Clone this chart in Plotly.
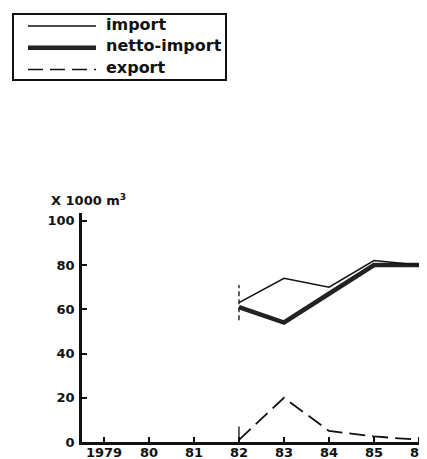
import plotly.graph_objects as go

tick_years = [1979, 1980, 1981, 1982, 1983, 1984, 1985, 1986]
tick_labels = ["1979", "80", "81", "82", "83", "84", "85", "86"]
y_ticks = [0, 20, 40, 60, 80, 100]

years = [1982, 1983, 1984, 1985, 1986]
import_vals = [63, 74, 70, 82, 80]
netto_vals = [61, 54, 67, 80, 80]
export_vals = [1, 20, 5, 2.5, 1]

series_names = ["import", "netto-import", "export"]

FONT = "DejaVu Sans, sans-serif"
INK = "#111"

# plot area in page pixels (the page has an 8px body margin)
PX0, PX1, PY0, PY1 = 82, 427, 213, 442


def px(x):
    return (x - PX0) / (PX1 - PX0)


def py(y):
    return (PY1 - y) / (PY1 - PY0)


styles = [dict(color=INK, width=1.5),
          dict(color="#222", width=4.5),
          dict(color=INK, width=1.8, dash="16px,7px")]

fig = go.Figure()
fig.add_trace(go.Scatter(x=years, y=netto_vals, mode="lines", name=series_names[1],
                         line=styles[1], showlegend=False))
fig.add_trace(go.Scatter(x=years, y=import_vals, mode="lines", name=series_names[0],
                         line=styles[0], showlegend=False))
fig.add_trace(go.Scatter(x=years, y=export_vals, mode="lines", name=series_names[2],
                         line=styles[2], showlegend=False))
# start markers at the first year of data
fig.add_trace(go.Scatter(x=[years[0], years[0]], y=[import_vals[0] - 8, import_vals[0] + 8],
                         mode="lines", showlegend=False,
                         line=dict(color=INK, width=1.3, dash="5px,3px")))
fig.add_trace(go.Scatter(x=[years[0], years[0]], y=[0, export_vals[0] + 6],
                         mode="lines", showlegend=False,
                         line=dict(color=INK, width=1.3)))

# hand-drawn legend box (long line samples like the original)
shapes = [dict(type="rect", xref="paper", yref="paper",
               x0=px(13), x1=px(226), y0=py(80), y1=py(14),
               line=dict(color=INK, width=2), fillcolor="white")]
annotations = []
legend_styles = [dict(color=INK, width=1.5),
                 dict(color="#222", width=4.5),
                 dict(color=INK, width=1.5, dash="15px,7px")]
for i, (name, st) in enumerate(zip(series_names, legend_styles)):
    yy = 26 + 21.8 * i
    shapes.append(dict(type="line", xref="paper", yref="paper",
                       x0=px(28), x1=px(96), y0=py(yy), y1=py(yy), line=st))
    annotations.append(dict(text=name, xref="paper", yref="paper",
                            x=px(104), y=py(yy - 2), xanchor="left", yanchor="middle",
                            showarrow=False,
                            font=dict(family=FONT, size=16, color=INK, weight="bold")))

annotations.append(dict(text="X 1000 m<sup>3</sup>", xref="paper", yref="paper",
                        x=px(49), y=py(210), xanchor="left", yanchor="bottom",
                        showarrow=False,
                        font=dict(family=FONT, size=13, color=INK, weight="bold")))

fig.update_layout(
    width=419, height=451,
    margin=dict(l=PX0 - 8, r=0, t=PY0 - 8, b=451 - (PY1 - 8)),
    paper_bgcolor="white", plot_bgcolor="white",
    font=dict(family=FONT, size=13, color=INK),
    showlegend=False,
    shapes=shapes,
    annotations=annotations,
    xaxis=dict(range=[1978.511, 1986.178], tickvals=tick_years, ticktext=tick_labels,
               showgrid=False, zeroline=False, showline=True, linecolor=INK,
               linewidth=2.5, ticks="inside", ticklen=5, tickwidth=2, tickcolor=INK,
               ticklabeloverflow="allow", ticklabelstandoff=-3, automargin=False,
               tickfont=dict(family=FONT, size=13, color=INK, weight="bold")),
    yaxis=dict(range=[0, 103.5], tickvals=y_ticks,
               showgrid=False, zeroline=False, showline=True, linecolor=INK,
               linewidth=2.5, ticks="inside", ticklen=5, tickwidth=2, tickcolor=INK,
               ticklabelstandoff=2, automargin=False,
               tickfont=dict(family=FONT, size=13, color=INK, weight="bold")),
)

fig.write_html("out.html")
